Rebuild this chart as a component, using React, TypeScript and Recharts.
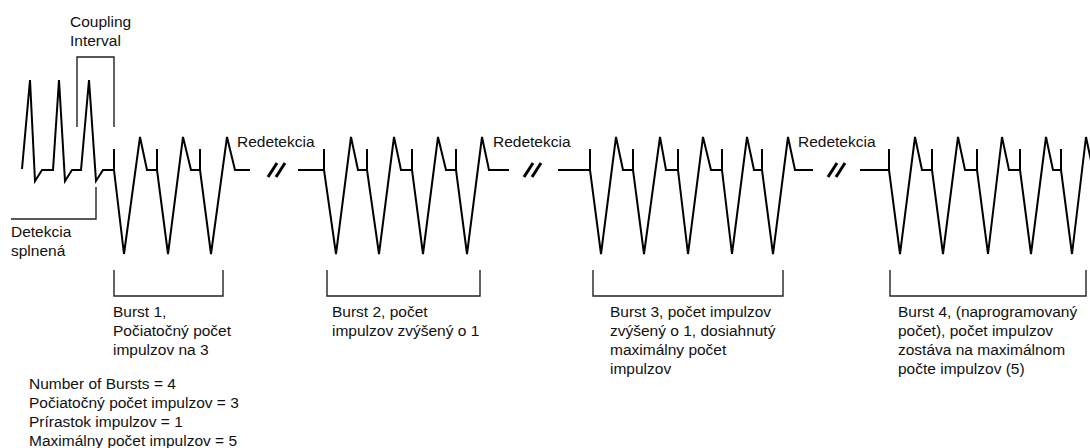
import React from 'react';
import { ComposedChart, Line, Scatter, XAxis, YAxis } from 'recharts';

// [time, amplitude] pairs (amplitude 0 = isoelectric baseline)
type P = [number, number];

const intrinsicRhythm: P[] = [
  [22, 1], [30, 90], [35, -11], [42, 0], [53, 0], [59, 90], [65, -11], [72, 0],
  [81, 0], [89, 90], [96, -11], [103, 0], [114, 0],
];

const burst1: P[] = [
  [114, 0], [114, 21], [114, 0], [124, -84], [140, 33], [147, 0],
  [157, 0], [157, 21], [157, 0], [168, -84], [183, 33], [191, 0],
  [200, 0], [200, 21], [200, 0], [211, -84], [227, 33], [235, 0], [250, 0],
];

const burst2: P[] = [
  [298, 0], [324, 0], [324, 21], [324, 0], [336, -84], [351, 33], [358, 0],
  [367, 0], [367, 21], [367, 0], [379, -84], [394, 33], [401, 0],
  [412, 0], [412, 21], [412, 0], [423, -84], [438, 33], [446, 0],
  [456, 0], [456, 21], [456, 0], [467, -84], [482, 33], [489, 0], [509, 0],
];

const burst3: P[] = [
  [558, 0], [590, 0], [590, 21], [590, 0], [601, -84], [616, 33], [623, 0],
  [633, 0], [633, 21], [633, 0], [644, -84], [660, 33], [666, 0],
  [678, 0], [678, 21], [678, 0], [688, -84], [703, 33], [711, 0],
  [722, 0], [722, 21], [722, 0], [732, -84], [747, 33], [754, 0],
  [762, 0], [762, 21], [762, 0], [773, -84], [788, 33], [795, 0], [813, 0],
];

const burst4: P[] = [
  [860, 0], [889, 0], [889, 21], [889, 0], [900, -84], [915, 33], [922, 0],
  [932, 0], [932, 21], [932, 0], [943, -84], [958, 33], [965, 0],
  [977, 0], [977, 21], [977, 0], [988, -84], [1002, 33], [1009, 0],
  [1020, 0], [1020, 21], [1020, 0], [1031, -84], [1046, 33], [1053, 0],
  [1061, 0], [1061, 21], [1061, 0], [1072, -84], [1086, 33], [1093, 0],
];

const couplingBracket: P[] = [[77, 43], [77, 113], [114, 113], [114, 43]];
const detectionBracket: P[] = [[11, -49], [96, -49], [96, -17]];

// burst brackets: [start, end]
const burstBrackets: P[] = [[114, 223], [327, 480], [593, 783], [890, 1086]];
const bracketTop = -100;
const bracketBottom = -126;

// "//" break marks: start times
const breakMarks = [268, 524, 828];

// text labels: [time, amplitude of first baseline, lines]
type Lbl = { t: number; v: number; lines: string[] };
const labels: Lbl[] = [
  { t: 70, v: 143, lines: ['Coupling', 'Interval'] },
  { t: 11, v: -67, lines: ['Detekcia', 'splnená'] },
  { t: 237, v: 23, lines: ['Redetekcia'] },
  { t: 493, v: 23, lines: ['Redetekcia'] },
  { t: 798, v: 23, lines: ['Redetekcia'] },
  { t: 113, v: -147, lines: ['Burst 1,', 'Počiatočný počet', 'impulzov na 3'] },
  { t: 332, v: -147, lines: ['Burst 2, počet', 'impulzov zvýšený o 1'] },
  { t: 610, v: -147, lines: ['Burst 3, počet impulzov', 'zvýšený o 1, dosiahnutý', 'maximálny počet', 'impulzov'] },
  { t: 898, v: -147, lines: ['Burst 4, (naprogramovaný', 'počet), počet impulzov', 'zostáva na maximálnom', 'počte impulzov (5)'] },
  { t: 29, v: -219, lines: ['Number of Bursts = 4', 'Počiatočný počet impulzov = 3', 'Prírastok impulzov = 1', 'Maximálny počet impulzov = 5'] },
];

const toData = (pts: P[]) => pts.map(([t, v]) => ({ t, v }));

const FONT = '"Liberation Sans", Arial, sans-serif';

const LabelShape = (props: any) => {
  const { cx, cy, payload } = props;
  return (
    <text x={cx} y={cy} fontFamily={FONT} fontSize={15.5} fill="#111">
      {payload.lines.map((l: string, i: number) => (
        <tspan key={i} x={cx} dy={i === 0 ? 0 : 19}>{l}</tspan>
      ))}
    </text>
  );
};

export default function App() {
  const waves = [intrinsicRhythm, burst1, burst2, burst3, burst4];
  const brackets: P[][] = [
    couplingBracket,
    detectionBracket,
    ...burstBrackets.map(([a, b]) => [[a, bracketTop], [a, bracketBottom], [b, bracketBottom], [b, bracketTop]] as P[]),
  ];
  const slashes: P[][] = [];
  breakMarks.forEach((s) => {
    slashes.push([[s, -7], [s + 9, 7]]);
    slashes.push([[s + 8, -7], [s + 17, 7]]);
  });

  return (
    <div style={{ width: 1090, height: 448, background: '#fff' }}>
      <style>{'body{margin:0}'}</style>
      <ComposedChart width={1090} height={448} margin={{ top: 0, right: 0, bottom: 0, left: 0 }}>
        <XAxis dataKey="t" type="number" domain={[0, 1090]} hide allowDataOverflow />
        <YAxis dataKey="v" type="number" domain={[-278, 170]} hide allowDataOverflow />
        {waves.map((w, i) => (
          <Line key={'w' + i} data={toData(w)} dataKey="v" type="linear" stroke="#000" strokeWidth={2}
            dot={false} activeDot={false} isAnimationActive={false} />
        ))}
        {brackets.map((b, i) => (
          <Line key={'b' + i} data={toData(b)} dataKey="v" type="linear" stroke="#222" strokeWidth={1.4}
            dot={false} activeDot={false} isAnimationActive={false} />
        ))}
        {slashes.map((s, i) => (
          <Line key={'s' + i} data={toData(s)} dataKey="v" type="linear" stroke="#000" strokeWidth={3}
            dot={false} activeDot={false} isAnimationActive={false} />
        ))}
        <Scatter data={labels} dataKey="v" shape={LabelShape} isAnimationActive={false} />
      </ComposedChart>
    </div>
  );
}
